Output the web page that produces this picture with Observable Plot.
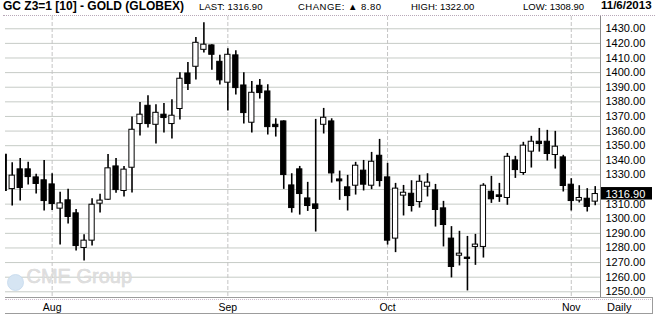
<!DOCTYPE html>
<html><head><meta charset="utf-8">
<script src="https://cdn.jsdelivr.net/npm/d3@7"></script>
<script src="https://cdn.jsdelivr.net/npm/@observablehq/plot@0.6"></script>
<style>
body{margin:0;background:#fff;}
#wrap{position:relative;width:659px;height:319px;font-family:"Liberation Sans",Arial,sans-serif;overflow:hidden;background:#fff;}
#wrap span{position:absolute;white-space:nowrap;line-height:1;color:#000;}
.ln{position:absolute;}
#chart{position:absolute;left:0;top:16px;}
</style></head>
<body>
<div id="wrap">
  <span style="left:3px;top:0px;font-size:12px;font-weight:bold;">GC Z3=1 [10] - GOLD (GLOBEX)</span>
  <span style="left:199px;top:1.6px;font-size:9.5px;letter-spacing:0.1px;">LAST: 1316.90</span>
  <span style="left:298px;top:1.6px;font-size:9.5px;letter-spacing:0.5px;">CHANGE: ▲ 8.80</span>
  <span style="left:411px;top:1.6px;font-size:9.5px;">HIGH: 1322.00</span>
  <span style="left:523px;top:1.6px;font-size:9.5px;">LOW: 1308.90</span>
  <span style="left:601px;top:0.3px;font-size:11.5px;font-weight:bold;">11/6/2013</span>
  <div class="ln" style="left:3px;top:15px;width:652px;border-top:1px dotted #b8a8b8;"></div>
  <div class="ln" style="left:600px;top:16px;width:1px;height:281px;background:#8a8a8a;"></div>
  <div class="ln" style="left:5px;top:297px;width:648px;height:1px;background:#9c9c9c;"></div>
  <div class="ln" style="left:5px;top:299px;width:648px;border-top:1px dotted #cdbccd;"></div>
  <div class="ln" style="left:5px;top:313px;width:648px;height:1px;background:#9c9c9c;"></div>
  <div class="ln" style="left:652px;top:297px;width:1px;height:17px;background:#9c9c9c;"></div>
  <span style="left:607px;top:301.7px;font-size:11px;">Daily</span>
  <div id="chart"></div>
</div>
<script>
const dates = [
 "2013-07-24","2013-07-25","2013-07-26","2013-07-29","2013-07-30","2013-07-31",
 "2013-08-01","2013-08-02","2013-08-05","2013-08-06","2013-08-07","2013-08-08","2013-08-09",
 "2013-08-12","2013-08-13","2013-08-14","2013-08-15","2013-08-16","2013-08-19","2013-08-20",
 "2013-08-21","2013-08-22","2013-08-23","2013-08-26","2013-08-27","2013-08-28","2013-08-29","2013-08-30",
 "2013-09-03","2013-09-04","2013-09-05","2013-09-06","2013-09-09","2013-09-10","2013-09-11",
 "2013-09-12","2013-09-13","2013-09-16","2013-09-17","2013-09-18","2013-09-19","2013-09-20",
 "2013-09-23","2013-09-24","2013-09-25","2013-09-26","2013-09-27","2013-09-30",
 "2013-10-01","2013-10-02","2013-10-03","2013-10-04","2013-10-07","2013-10-08","2013-10-09",
 "2013-10-10","2013-10-11","2013-10-14","2013-10-15","2013-10-16","2013-10-17","2013-10-18",
 "2013-10-21","2013-10-22","2013-10-23","2013-10-24","2013-10-25","2013-10-28","2013-10-29",
 "2013-10-30","2013-10-31",
 "2013-11-01","2013-11-04","2013-11-05","2013-11-06"
];
const open = [
 1343.8,1320.3,1333.8,1333.8,1328.3,1326.3,
 1323.5,1306.9,1312.6,1303.7,1280.0,1285.0,1310.3,
 1313.0,1335.8,1319.0,1334.9,1364.8,1377.3,1364.3,
 1371.2,1364.8,1375.1,1399.4,1404.0,1415.6,1418.6,1407.4,
 1393.1,1411.8,1391.2,1365.7,1391.0,1387.1,1364.3,
 1366.6,1322.8,1333.8,1313.9,1309.8,1364.3,1366.6,
 1326.9,1321.5,1322.6,1332.9,1322.6,1343.1,
 1328.3,1286.4,1315.8,1317.1,1311.4,1321.9,1319.4,
 1307.1,1286.4,1274.7,1273.4,1280.7,1280.7,1318.5,
 1316.0,1314.2,1339.9,1331.3,1345.9,1352.7,1352.7,
 1343.6,1342.0,
 1323.3,1312.4,1313.7,1311.7
];
const high = [
 1344.5,1338.3,1341.3,1338.6,1330.4,1339.9,
 1330.8,1318.1,1320.1,1306.4,1289.1,1313.7,1316.7,
 1344.0,1341.3,1335.8,1369.6,1379.6,1384.2,1378.0,
 1378.9,1381.4,1399.9,1407.0,1424.1,1434.1,1419.0,1411.8,
 1416.3,1415.0,1399.9,1394.0,1395.3,1391.7,1368.4,
 1367.0,1330.8,1335.8,1324.9,1368.0,1375.5,1368.4,
 1332.6,1329.7,1338.6,1339.9,1345.4,1354.3,
 1337.9,1324.2,1322.8,1326.0,1329.7,1330.8,1323.5,
 1311.9,1294.6,1291.4,1287.9,1289.3,1324.0,1329.0,
 1324.2,1344.7,1342.7,1352.3,1356.4,1361.8,1360.5,
 1359.8,1343.4,
 1327.4,1322.6,1320.6,1322.0
];
const low = [
 1318.5,1308.7,1312.1,1323.1,1316.9,1305.3,
 1305.7,1282.0,1296.4,1277.9,1271.1,1281.3,1303.9,
 1312.6,1317.4,1314.9,1317.6,1356.6,1362.1,1351.1,
 1358.6,1354.5,1367.5,1387.8,1394.9,1413.4,1401.7,1391.5,
 1373.7,1384.6,1364.8,1358.6,1381.9,1357.3,1355.9,
 1320.1,1303.9,1302.5,1305.0,1290.9,1358.0,1324.4,
 1312.6,1305.3,1316.2,1319.0,1319.9,1321.7,
 1282.0,1276.8,1301.9,1304.6,1307.3,1314.9,1294.3,
 1280.7,1259.5,1267.7,1250.6,1268.1,1273.1,1310.5,
 1311.2,1309.2,1327.6,1329.7,1334.7,1345.6,1339.5,
 1334.0,1318.3,
 1305.3,1310.8,1304.6,1308.9
];
const close = [
 1319.0,1329.5,1321.0,1328.5,1323.8,1312.1,
 1310.1,1310.5,1301.2,1281.3,1285.0,1309.6,1312.4,
 1334.5,1319.6,1333.6,1360.9,1371.2,1364.8,1372.5,
 1368.9,1370.5,1395.8,1392.2,1420.4,1419.1,1412.2,1394.7,
 1412.2,1389.4,1372.3,1386.2,1386.0,1362.7,1362.7,
 1329.9,1307.3,1316.9,1308.7,1306.7,1369.1,1331.0,
 1325.6,1315.5,1336.3,1323.3,1339.0,1325.8,
 1285.0,1320.6,1317.8,1308.7,1325.3,1324.7,1306.0,
 1295.7,1267.0,1276.1,1272.5,1282.3,1322.6,1313.3,
 1314.9,1342.4,1333.3,1350.0,1352.7,1351.1,1344.3,
 1349.3,1322.4,
 1312.1,1314.2,1308.1,1316.9
];
const monthStarts = ["2013-08-01","2013-09-03","2013-10-01","2013-11-01"];
const monthLabels = ["Aug","Sep","Oct","Nov"];
const yGrid = [1250,1260,1270,1280,1290,1300,1310,1320,1330,1340,1350,1360,1370,1380,1390,1400,1410,1420,1430];
// 1320.00 is hidden behind the last-price box in the reference
const yLabels = [1250,1260,1270,1280,1290,1300,1310,1330,1340,1350,1360,1370,1380,1390,1400,1410,1420,1430];

const rows = dates.map((d, k) => ({k, date: d, open: open[k], high: high[k], low: low[k], close: close[k]}));
const months = monthStarts.map((m, j) => ({k: dates.indexOf(m), label: monthLabels[j]}));
const last = rows[rows.length - 1];

const chart = Plot.plot({
  width: 659, height: 303,
  marginLeft: 5, marginRight: 59, marginTop: 0, marginBottom: 22,
  style: {fontFamily: "Liberation Sans, Arial, sans-serif", fontSize: "11px", background: "transparent", color: "#000"},
  x: {domain: [0.16, 74.66], axis: null},
  y: {domain: [1246.1, 1438.4], axis: "right", ticks: yLabels, tickFormat: d => d.toFixed(2), tickSize: 0, tickPadding: 5, label: null},
  marks: [
    Plot.ruleY(yGrid, {stroke: "#c6cbc6", strokeWidth: 1}),
    Plot.ruleX(months, {x: "k", stroke: "#c4c4c4", strokeDasharray: "4,2"}),
    Plot.dot([0], {frameAnchor: "bottom-left", dx: 10, dy: -15, r: 8, fill: "#d6e5f3", stroke: "#c4d8ec", strokeWidth: 0.8}),
    Plot.text(["CME Group"], {frameAnchor: "bottom-left", dx: 21, dy: -15, textAnchor: "start", fontSize: 20, fill: "#dedede", stroke: "#cfcfcf", strokeWidth: 0.5, text: d => d}),
    Plot.ruleX(rows, {x: "k", y1: "low", y2: "high", stroke: "#000", strokeWidth: 1.6, clip: true}),
    Plot.rect(rows, {x1: d => d.k - 0.33, x2: d => d.k + 0.33, y1: "open", y2: "close",
      fill: d => d.close >= d.open ? "#fff" : "#000", stroke: "#000", strokeWidth: 1, clip: true}),
    Plot.text(months, {x: "k", text: "label", frameAnchor: "bottom", lineAnchor: "top", dy: 6.2, fontSize: 10.5}),
    Plot.text([last], {y: "close", text: d => d.close.toFixed(2), frameAnchor: "right", dx: 5, textAnchor: "start", fill: "#fff", fontSize: 11})
  ]
});
document.getElementById("chart").appendChild(chart);

// black background box behind the last-price label
const lbl = d3.select(chart).selectAll("text").filter(function(){
  return this.textContent === last.close.toFixed(2);
});
const node = lbl.node();
if (node) {
  const yPix = chart.scale("y").apply(last.close);
  const g = node.parentNode;
  const rect = document.createElementNS("http://www.w3.org/2000/svg", "rect");
  rect.setAttribute("x", 659 - 59 + 1);
  rect.setAttribute("y", yPix - 6.5);
  rect.setAttribute("width", 51);
  rect.setAttribute("height", 12.5);
  rect.setAttribute("fill", "#000");
  g.parentNode.insertBefore(rect, g);
}
</script>
</body></html>
